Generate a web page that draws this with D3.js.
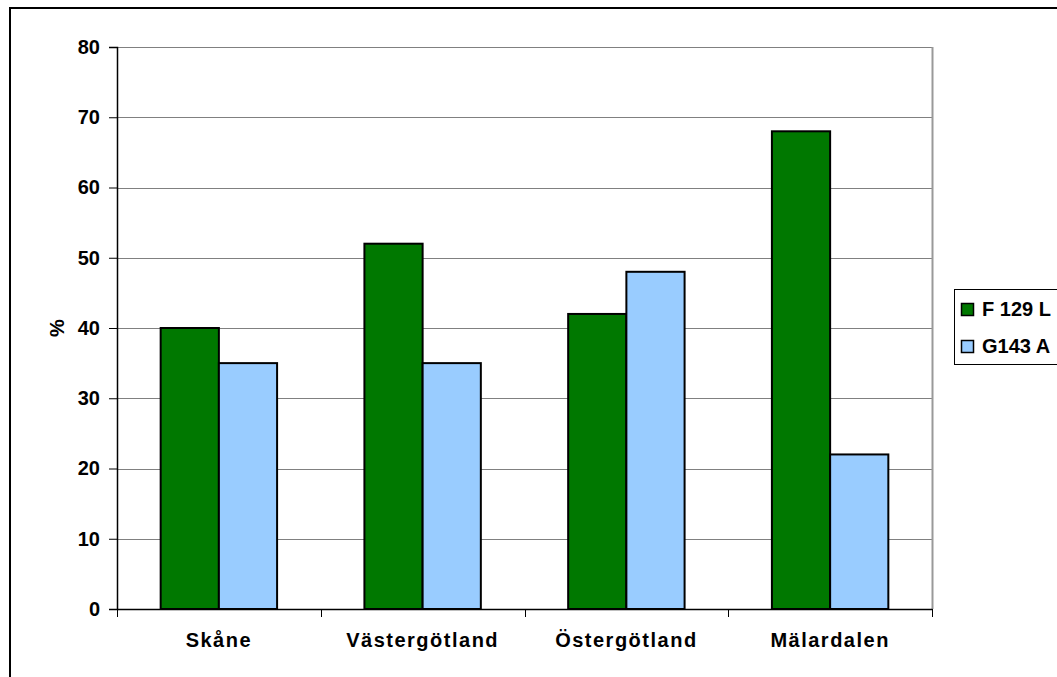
<!DOCTYPE html>
<html>
<head>
<meta charset="utf-8">
<script src="https://cdn.jsdelivr.net/npm/d3@7"></script>
<style>
  body { margin: 0; background: #fff; }
  text { font-family: "Liberation Sans", Arial, sans-serif; font-weight: bold; fill: #000; }
</style>
</head>
<body>
<div id="chart"></div>
<script>
// Data
const regions = ["Skåne", "Västergötland", "Östergötland", "Mälardalen"];
const seriesNames = ["F 129 L", "G143 A"];
const f129L = [40, 52, 42, 68];
const g143A = [35, 35, 48, 22];
const yTicks = [0, 10, 20, 30, 40, 50, 60, 70, 80];

const seriesColors = ["#007800", "#99ccff"];

const svgWidth = 1057;
const svgHeight = 677;
const fontSize = "20px";
const fontFamily = "Liberation Sans, Arial, sans-serif";

// plot area
const margin = { top: 47, left: 117 };
const chartWidth = 932 - 117;
const chartHeight = 609 - 47;

const svg = d3.select("#chart")
  .append("svg")
  .attr("width", svgWidth)
  .attr("height", svgHeight);

// outer chart border
svg.append("rect")
  .attr("x", 10)
  .attr("y", 8)
  .attr("width", svgWidth + 20)
  .attr("height", svgHeight + 20)
  .attr("fill", "none")
  .attr("stroke", "#000")
  .attr("stroke-width", 2);

const chartGroup = svg.append("g")
  .attr("transform", `translate(${margin.left}, ${margin.top})`);

const x0 = d3.scaleBand()
  .domain(regions)
  .range([0, chartWidth])
  .paddingInner(0.4286)
  .paddingOuter(0.2143);

const x1 = d3.scaleBand()
  .domain(seriesNames)
  .range([0, x0.bandwidth()]);

const y = d3.scaleLinear()
  .domain([0, 80])
  .range([chartHeight, 0]);

// gridlines
chartGroup.selectAll(".grid")
  .data(yTicks.slice(1))
  .enter()
  .append("line")
  .attr("x1", 0)
  .attr("x2", chartWidth)
  .attr("y1", d => Math.round(y(d)) + 0.5)
  .attr("y2", d => Math.round(y(d)) + 0.5)
  .attr("stroke", "#808080")
  .attr("stroke-width", 1);

// right border of plot area
chartGroup.append("line")
  .attr("x1", chartWidth + 0.5)
  .attr("x2", chartWidth + 0.5)
  .attr("y1", 0)
  .attr("y2", chartHeight)
  .attr("stroke", "#999")
  .attr("stroke-width", 2);

// bars
const rows = regions.map((r, i) => ({ region: r, values: [f129L[i], g143A[i]] }));

const groups = chartGroup.selectAll(".group")
  .data(rows)
  .enter()
  .append("g")
  .attr("transform", d => `translate(${x0(d.region)}, 0)`);

groups.selectAll("rect")
  .data(d => d.values.map((v, j) => ({ name: seriesNames[j], value: v, idx: j })))
  .enter()
  .append("rect")
  .attr("x", d => x1(d.name))
  .attr("y", d => y(d.value))
  .attr("width", x1.bandwidth())
  .attr("height", d => chartHeight - y(d.value))
  .attr("fill", d => seriesColors[d.idx])
  .attr("stroke", "#000")
  .attr("stroke-width", 2);

// y axis
const leftAxis = d3.axisLeft(y)
  .tickValues(yTicks)
  .tickSize(8)
  .tickPadding(9);

const yAxisG = chartGroup.append("g").call(leftAxis);
yAxisG.select(".domain").attr("stroke", "#000").attr("stroke-width", 1.5);
yAxisG.selectAll("line").attr("stroke", "#000");
yAxisG.selectAll("text")
  .style("font-size", fontSize)
  .style("font-family", fontFamily)
  .style("font-weight", "bold");

// x axis
const bottomAxis = d3.axisBottom(x0)
  .tickSize(0)
  .tickPadding(24);

const xAxisG = chartGroup.append("g")
  .attr("transform", `translate(0, ${chartHeight})`)
  .call(bottomAxis);
xAxisG.select(".domain").attr("stroke", "#000").attr("stroke-width", 1.5);
xAxisG.selectAll("text")
  .style("font-size", fontSize)
  .style("font-family", fontFamily)
  .style("font-weight", "bold")
  .style("letter-spacing", "1.5px");

// category separator ticks
xAxisG.selectAll(".sep")
  .data(d3.range(regions.length + 1))
  .enter()
  .append("line")
  .attr("x1", i => Math.round(i * chartWidth / regions.length) + 0.5)
  .attr("x2", i => Math.round(i * chartWidth / regions.length) + 0.5)
  .attr("y1", 0)
  .attr("y2", 8)
  .attr("stroke", "#000");

// y axis title
svg.append("text")
  .attr("transform", `translate(64, ${margin.top + chartHeight / 2}) rotate(-90)`)
  .attr("text-anchor", "middle")
  .style("font-size", fontSize)
  .text("%");

// legend
const legend = svg.append("g")
  .attr("transform", "translate(954, 289)");

legend.append("rect")
  .attr("x", 0.5)
  .attr("y", 0.5)
  .attr("width", 140)
  .attr("height", 75)
  .attr("fill", "#fff")
  .attr("stroke", "#000")
  .attr("stroke-width", 1);

const legendItems = legend.selectAll(".item")
  .data(seriesNames)
  .enter()
  .append("g")
  .attr("transform", (d, i) => `translate(7, ${20 + i * 37})`);

legendItems.append("rect")
  .attr("x", 0.5)
  .attr("y", -5.5)
  .attr("width", 12)
  .attr("height", 12)
  .attr("fill", (d, i) => seriesColors[i])
  .attr("stroke", "#000")
  .attr("stroke-width", 1.5);

legendItems.append("text")
  .attr("x", 21)
  .attr("y", 7)
  .style("font-size", fontSize)
  .text(d => d);
</script>
</body>
</html>
